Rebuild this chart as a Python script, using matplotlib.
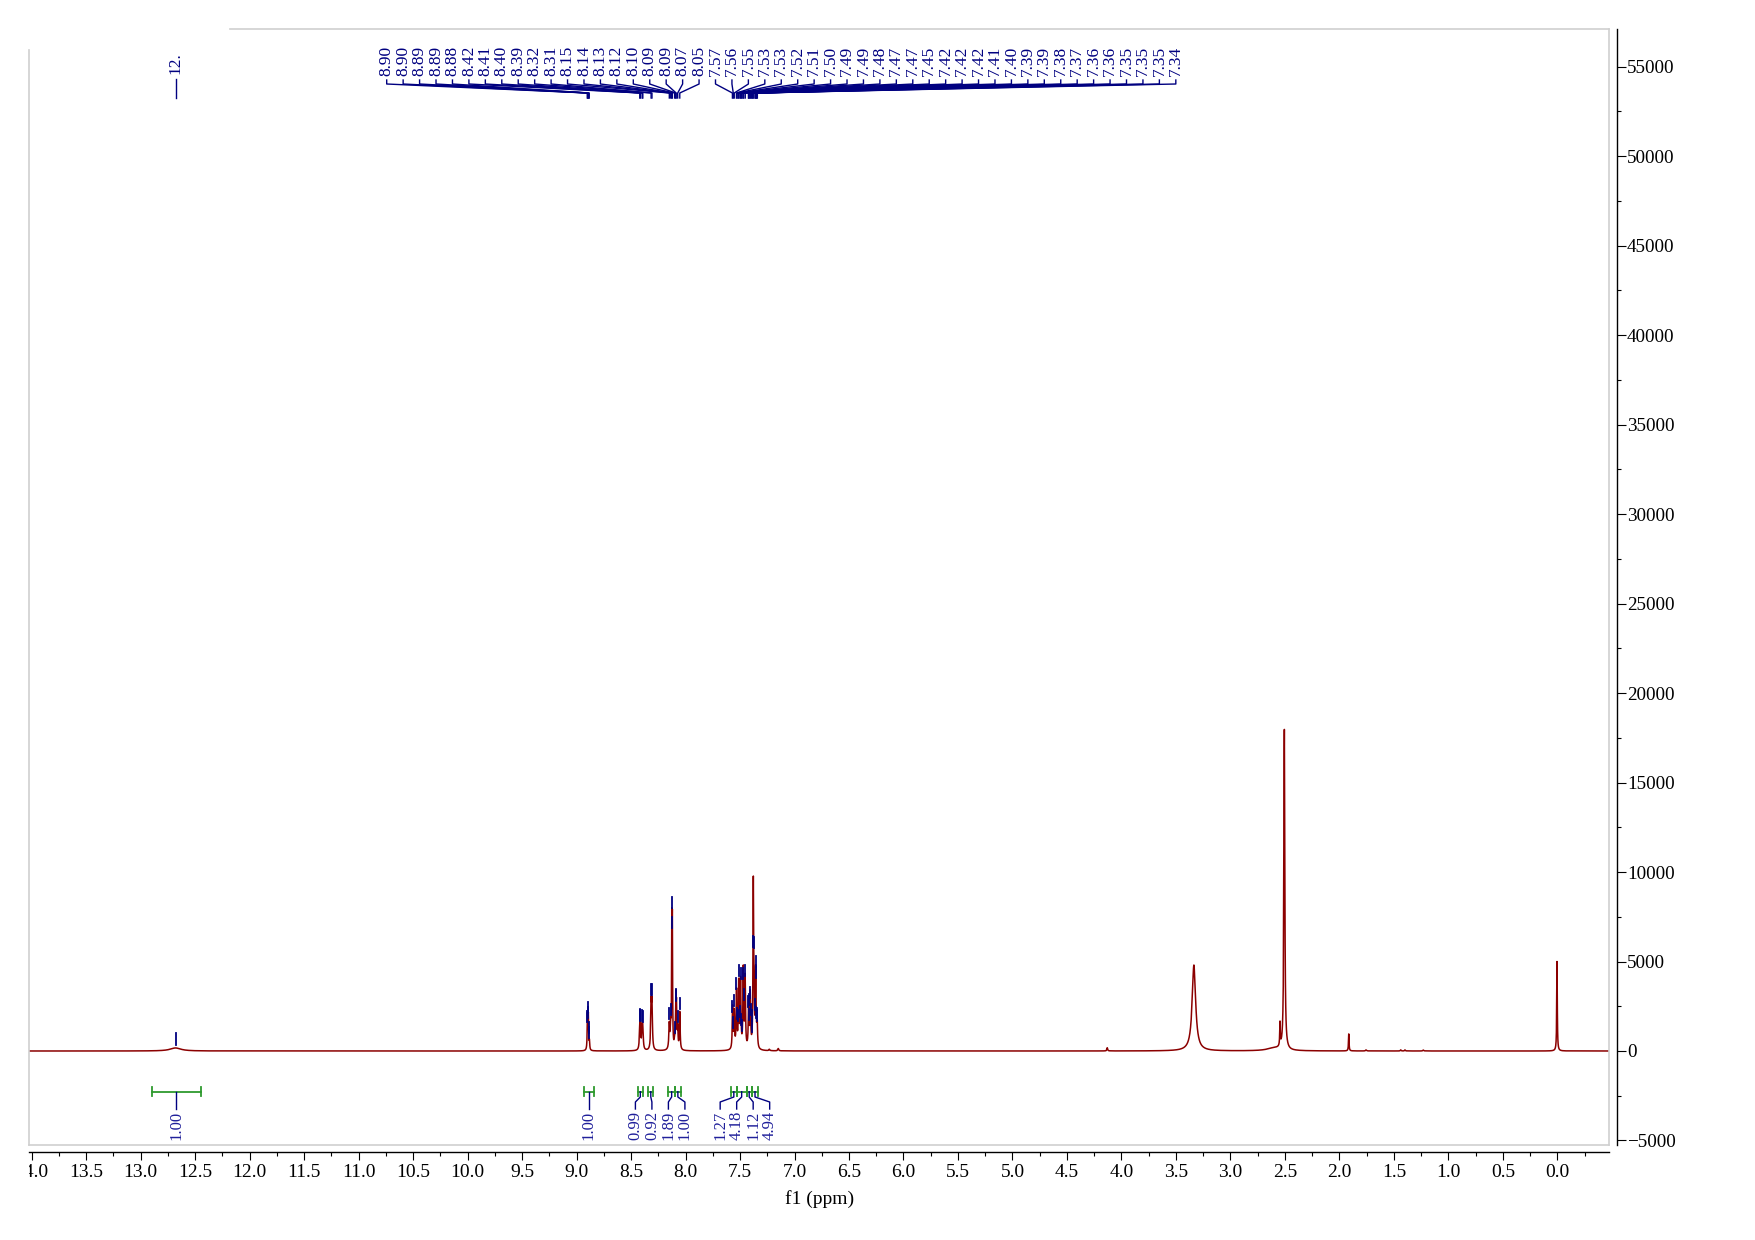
import numpy as np
import matplotlib
matplotlib.use("Agg")
import matplotlib.pyplot as plt
from matplotlib.ticker import MultipleLocator, FuncFormatter
from matplotlib.transforms import Bbox, TransformedBbox

plt.rcParams['font.family'] = ['Liberation Serif', 'DejaVu Serif']

# spectrum lines: position (ppm), height, line width (ppm)
line_ppm = [12.68,
            8.900, 8.892, 8.882,
            8.420, 8.414, 8.398, 8.392,
            8.316, 8.308,
            8.149, 8.136, 8.126, 8.121, 8.100, 8.089, 8.083, 8.072, 8.053,
            7.568, 7.553, 7.532, 7.512, 7.495, 7.470, 7.453, 7.421, 7.406,
            7.378, 7.371, 7.356, 7.343,
            7.231, 7.149, 4.13, 3.335, 2.60, 2.545, 2.505,
            1.914, 1.755, 1.437, 1.398, 1.23, 0.003]
line_height = [170,
               1900, 1900, 460,
               1090, 1090, 1050, 1050,
               2430, 2430,
               1400, 1100, 6400, 6400, 400, 2180, 2180, 1100, 2100,
               2350, 2030, 3200, 3640, 3750, 4400, 3950, 2500, 3000,
               9000, 2500, 4300, 1400,
               80, 130, 180, 4800, 150, 1300, 17900,
               950, 60, 60, 60, 50, 5000]
line_width = [0.12,
              0.006, 0.006, 0.006,
              0.009, 0.009, 0.009, 0.009,
              0.009, 0.009,
              0.010, 0.008, 0.005, 0.005, 0.010, 0.007, 0.007, 0.007, 0.008,
              0.008, 0.008, 0.008, 0.008, 0.008, 0.008, 0.008, 0.008, 0.008,
              0.007, 0.007, 0.008, 0.008,
              0.010, 0.010, 0.008, 0.038, 0.15, 0.006, 0.010,
              0.006, 0.010, 0.008, 0.008, 0.010, 0.006]

# picked peaks (labels at the top)
picked_ppm = [8.902, 8.898, 8.893, 8.888, 8.884, 8.420, 8.414, 8.398, 8.392,
              8.316, 8.308, 8.149, 8.136, 8.127, 8.121, 8.100, 8.090, 8.086,
              8.072, 8.053,
              7.570, 7.562, 7.553, 7.533, 7.527, 7.518, 7.512, 7.501, 7.494,
              7.488, 7.481, 7.472, 7.466, 7.452, 7.423, 7.419, 7.416, 7.408,
              7.402, 7.393, 7.387, 7.381, 7.374, 7.362, 7.357, 7.354, 7.349,
              7.346, 7.341]
broad_ppm = 12.68
broad_text = '12.'

# integrals
integral_from = [12.898, 8.936, 8.440, 8.342, 8.158, 8.097, 7.583, 7.531, 7.439, 7.393]
integral_to = [12.445, 8.844, 8.390, 8.296, 8.097, 8.044, 7.531, 7.439, 7.393, 7.332]
integral_value = [1.00, 1.00, 0.99, 0.92, 1.89, 1.00, 1.27, 4.18, 1.12, 4.94]

# layout in pixels of the 1755 x 1240 picture
W_PX, H_PX = 1755, 1240
AX_L, AX_R, AX_T, AX_B = 29.3, 1609.0, 29.3, 1145.0
X0, X1 = 14.022, -0.474
Y0, Y1 = -5252, 57083

red = '#8b0000'
navy = '#000080'
green = '#2e9a2e'
ibl = '#1f1f9a'


def fx_px(x):
    return (x - AX_L) / (AX_R - AX_L)


def fy_px(y):
    return (AX_B - y) / (AX_B - AX_T)


def px_ppm(p):
    return AX_L + (X0 - p) / (X0 - X1) * (AX_R - AX_L)


def py_val(v):
    return AX_B - (v - Y0) / (Y1 - Y0) * (AX_B - AX_T)


ppm = np.linspace(X1 - 0.01, X0 + 0.01, 150000)
spec = np.zeros_like(ppm)
for c, h, w in zip(line_ppm, line_height, line_width):
    spec += h / (1 + (2 * (ppm - c) / w) ** 2)

fig = plt.figure(figsize=(W_PX / 100, H_PX / 100), dpi=100)
ax = fig.add_axes([AX_L / W_PX, 1 - AX_B / H_PX,
                   (AX_R - AX_L) / W_PX, (AX_B - AX_T) / H_PX])
ax.plot(ppm, spec, color=red, lw=1.1)
ax.set_xlim(X0, X1)
ax.set_ylim(Y0, Y1)

# axes look
for s in ['top', 'left']:
    ax.spines[s].set_visible(False)
ax.spines['bottom'].set_position(('outward', 5.3))
ax.spines['right'].set_position(('outward', 5.5))
ax.spines['bottom'].set_linewidth(1.0)
ax.spines['right'].set_linewidth(1.0)
ax.yaxis.tick_right()
ax.xaxis.set_major_locator(MultipleLocator(0.5))
ax.xaxis.set_minor_locator(MultipleLocator(0.25))
ax.yaxis.set_major_locator(MultipleLocator(5000))
ax.yaxis.set_minor_locator(MultipleLocator(2500))
ax.xaxis.set_major_formatter(FuncFormatter(lambda v, p: '%.1f' % (abs(v) if abs(v) < 1e-9 else v)))
ax.yaxis.set_major_formatter(FuncFormatter(lambda v, p: ('\u2212%d' % -v) if v < 0 else '%d' % v))
ax.tick_params(axis='x', which='major', direction='out', length=5.5, width=0.8,
               labelsize=14, pad=3)
ax.tick_params(axis='x', which='minor', direction='out', length=2.7, width=0.8)
ax.tick_params(axis='y', which='major', direction='out', length=6.5, width=0.8,
               labelsize=13.8, pad=1)
ax.tick_params(axis='y', which='minor', direction='out', length=2.9, width=0.8)
ax.set_xlabel('f1 (ppm)', fontsize=14, labelpad=6.5)

# light grey frame
gray = '#cfcfcf'
frame = dict(transform=ax.transAxes, color=gray, lw=1.2, clip_on=False)
ax.plot([fx_px(230), 1], [1, 1], **frame)
ax.plot([0, 0], [0, fy_px(50)], **frame)
ax.plot([1, 1], [0, 1], **frame)
ax.plot([0, 1], [0, 0], **frame)

T = dict(transform=ax.transAxes, clip_on=False)

# peak labels
lab_x0, lab_dx = 386.7, 16.44
for i, p in enumerate(picked_ppm):
    lx = lab_x0 + i * lab_dx
    px = px_ppm(p)
    ax.plot([fx_px(lx), fx_px(lx), fx_px(px), fx_px(px)],
            [fy_px(80), fy_px(84), fy_px(93), fy_px(98)], color=navy, lw=1.0, **T)
    ax.text(fx_px(lx), fy_px(76), '%.2f' % p, rotation=90, ha='center', va='bottom',
            color=navy, fontsize=12.5, **T)
    yp = py_val(np.interp(p, ppm, spec))
    ax.plot([fx_px(px)] * 2, [fy_px(yp - 2), fy_px(yp - 13)], color=navy, lw=1.3, **T)

bx = px_ppm(broad_ppm)
ax.plot([fx_px(bx)] * 2, [fy_px(79), fy_px(98)], color=navy, lw=1.0, **T)
ax.text(fx_px(bx), fy_px(74), broad_text, rotation=90, ha='center', va='bottom',
        color=navy, fontsize=12.5, **T)
yb = py_val(np.interp(broad_ppm, ppm, spec))
ax.plot([fx_px(bx)] * 2, [fy_px(yb - 3), fy_px(yb - 15)], color=navy, lw=1.3, **T)

# integrals: spread labels so they do not overlap
centers = [px_ppm((a + b) / 2) for a, b in zip(integral_from, integral_to)]
gap = 16.5
groups = [[i] for i in np.argsort(centers)]
changed = True
while changed:
    changed = False
    pos = []
    for g in groups:
        m = np.mean([centers[k] for k in g])
        pos.append([m + (j - (len(g) - 1) / 2) * gap for j in range(len(g))])
    for k in range(len(groups) - 1):
        if pos[k][-1] + gap > pos[k + 1][0]:
            groups[k] = groups[k] + groups[k + 1]
            del groups[k + 1]
            changed = True
            break
label_x = {}
for g, ps in zip(groups, pos):
    for k, x in zip(g, ps):
        label_x[k] = x

bar_y = 1091.7
for k, (a, b, v) in enumerate(zip(integral_from, integral_to, integral_value)):
    xa, xb = px_ppm(a), px_ppm(b)
    ax.plot([fx_px(xa), fx_px(xb)], [fy_px(bar_y)] * 2, color=green, lw=1.3, **T)
    for xe in (xa, xb):
        ax.plot([fx_px(xe)] * 2, [fy_px(bar_y - 4.3), fy_px(bar_y + 4.3)], color=green, lw=1.3, **T)
    cx, lx = centers[k], label_x[k]
    ax.plot([fx_px(cx), fx_px(cx), fx_px(lx), fx_px(lx)],
            [fy_px(bar_y), fy_px(1097), fy_px(1102), fy_px(1109)], color=navy, lw=1.0, **T)
    ax.text(fx_px(lx), fy_px(1111), '%.2f' % v, rotation=90, ha='center', va='top',
            color=ibl, fontsize=12, **T)

# x tick labels are cut at the frame edges
fig.canvas.draw()
clip = TransformedBbox(Bbox([[0, -1], [1, 2]]), ax.transAxes)
for lab in ax.get_xticklabels():
    lab.set_clip_box(clip)
    lab.set_clip_on(True)

fig.savefig('out.png', dpi=100)
